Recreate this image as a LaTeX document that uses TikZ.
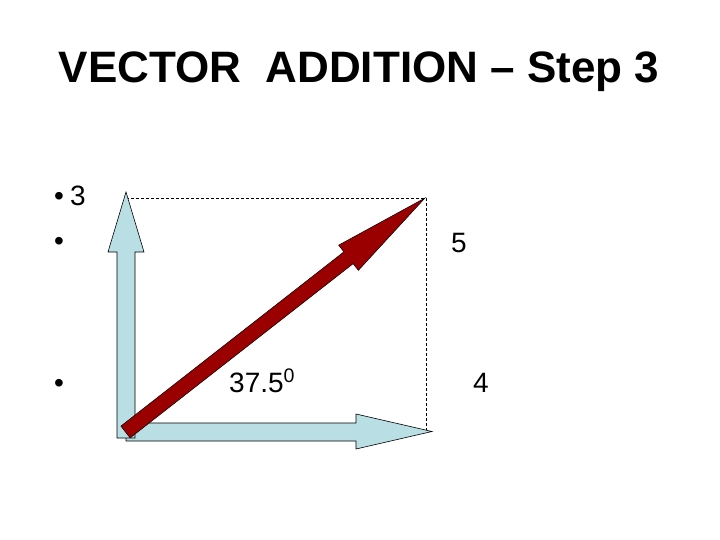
\documentclass[tikz,border=0pt]{standalone}
\usepackage{fontspec}
\setmainfont{Liberation Sans}
\definecolor{vecblue}{RGB}{185,223,228}
\definecolor{vecred}{RGB}{155,0,0}

\begin{document}
\begin{tikzpicture}[x=1pt,y=-1pt]
\tikzset{label/.style = {anchor=base west,inner sep=0pt,font=\fontsize{28}{30}\selectfont}}
\tikzset{comp/.style = {draw=black,fill=vecblue,line width=0.6pt,line join=miter}}
\tikzset{result/.style = {draw=black,fill=vecred,line width=0.5pt}}
\tikzset{guide/.style = {draw=black,dashed,line width=0.5pt,dash pattern=on 3pt off 2pt}}
\fill[white] (0,0) rectangle (720,540);
\useasboundingbox (0,0) rectangle (720,540);

\node[anchor=base,inner sep=0pt,font=\fontsize{44}{48}\bfseries] (title) at (359,83) {VECTOR\ \ ADDITION -- Step 3};

\node[label] (b1) at (54,206) {\textbullet};
\node[label] (b2) at (54,251) {\textbullet};
\node[label] (b3) at (54,392) {\textbullet};
\node[label] (three) at (70,206) {3};
\node[label] (five) at (451,252) {5};
\node[label] (angle) at (229,392) {37.5\textsuperscript{0}};
\node[label] (four) at (473,392) {4};

\coordinate (O) at (126,432);
\coordinate (corner) at (426,198);
\coordinate (ytop) at (126,198);
\coordinate (xend) at (426,431);

\draw[guide] (ytop) -- (corner) -- (xend);

\draw[comp] (126,423) -- (356,423) -- (356,414) -- (432,431.5) -- (356,449) -- (356,441) -- (126,441) -- cycle;
\draw[comp] (117,438) -- (117,252) -- (108,252) -- (126,192) -- (144,252) -- (135,252) -- (135,438) -- cycle;

\begin{scope}[shift={(125.5,432)},rotate=38]
\draw[result] (0,-7.5) -- (283,-7.5) -- (283,-16) -- (380,0) -- (283,16) -- (283,7.5) -- (0,7.5) -- cycle;
\end{scope}
\end{tikzpicture}
\end{document}
